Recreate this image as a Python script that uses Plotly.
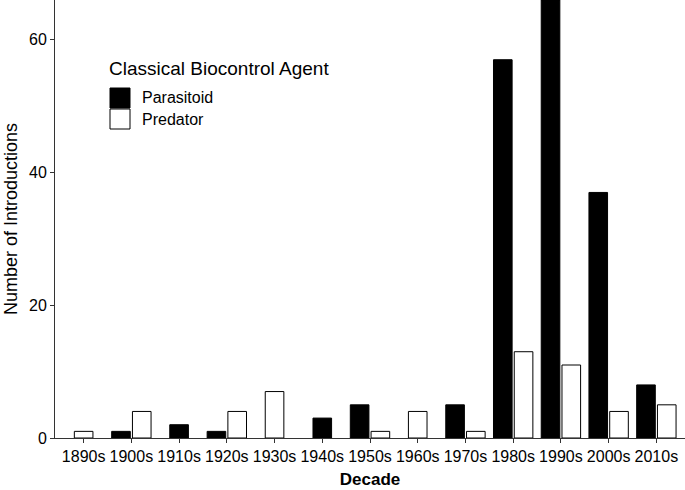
import plotly.graph_objects as go

decades = ["1890s", "1900s", "1910s", "1920s", "1930s", "1940s", "1950s",
           "1960s", "1970s", "1980s", "1990s", "2000s", "2010s"]
parasitoid = [0, 1, 2, 1, 0, 3, 5, 0, 5, 57, 66, 37, 8]
predator = [1, 4, 0, 4, 7, 0, 1, 4, 1, 13, 11, 4, 5]

W = 0.39   # bar width (category units)
G = 0.045  # gap between dodged bars

# dodge like ggplot's position_dodge2(preserve = "single"): lone bars sit centred
par_off, pred_off = [], []
for a, b in zip(parasitoid, predator):
    if a > 0 and b > 0:
        par_off.append(-(W + G / 2))
        pred_off.append(G / 2)
    else:
        par_off.append(-W / 2)
        pred_off.append(-W / 2)

fig = go.Figure()
fig.add_trace(go.Bar(
    x=decades, y=[v if v > 0 else None for v in parasitoid],
    width=W, offset=par_off, name="Parasitoid",
    marker=dict(color="black", line=dict(color="black", width=1)),
))
fig.add_trace(go.Bar(
    x=decades, y=[v if v > 0 else None for v in predator],
    width=W, offset=pred_off, name="Predator",
    marker=dict(color="white", line=dict(color="black", width=1)),
))

font = "Liberation Sans, Arial, sans-serif"
axis_col = "#333333"

fig.update_layout(
    width=685, height=490,
    margin=dict(l=55, r=0, t=0, b=52),
    barmode="overlay",
    plot_bgcolor="white", paper_bgcolor="white",
    showlegend=False,
    font=dict(family=font, color="black"),
    xaxis=dict(
        range=[-0.6, 12.6], showline=True, linecolor=axis_col, linewidth=1,
        ticks="outside", ticklen=4, tickcolor=axis_col,
        tickfont=dict(size=16, color="black"),
        title=dict(text="<b>Decade</b>", font=dict(size=17), standoff=8),
        showgrid=False, zeroline=False,
    ),
    yaxis=dict(
        range=[0, 66], showline=True, linecolor=axis_col, linewidth=1,
        tickvals=[0, 20, 40, 60], ticks="outside", ticklen=4, tickcolor=axis_col,
        tickfont=dict(size=16, color="black"),
        title=dict(text="Number of Introductions", font=dict(size=18), standoff=6),
        showgrid=False, zeroline=False,
    ),
)

# legend drawn by hand so the keys can be as large as the reference's
def px_x(p):
    return (p - 55) / 630


def px_y(p):
    return 1 - p / 438


fig.add_annotation(xref="x domain", yref="y domain", x=px_x(107), y=px_y(69),
                   text="Classical Biocontrol Agent", showarrow=False,
                   xanchor="left", yanchor="middle", font=dict(size=19, color="black"))
keys = [("Parasitoid", "black", 88), ("Predator", "white", 109)]
for label, col, top in keys:
    fig.add_shape(type="rect", xref="x domain", yref="y domain",
                  x0=px_x(110), x1=px_x(130), y0=px_y(top + 20), y1=px_y(top),
                  fillcolor=col, line=dict(color="black", width=1))
    fig.add_annotation(xref="x domain", yref="y domain", x=px_x(140), y=px_y(top + 10),
                       text=label, showarrow=False, xanchor="left", yanchor="middle",
                       font=dict(size=16, color="black"))

fig.write_html("out.html", config={"displayModeBar": False},
               post_script="document.body.style.margin='0';")
